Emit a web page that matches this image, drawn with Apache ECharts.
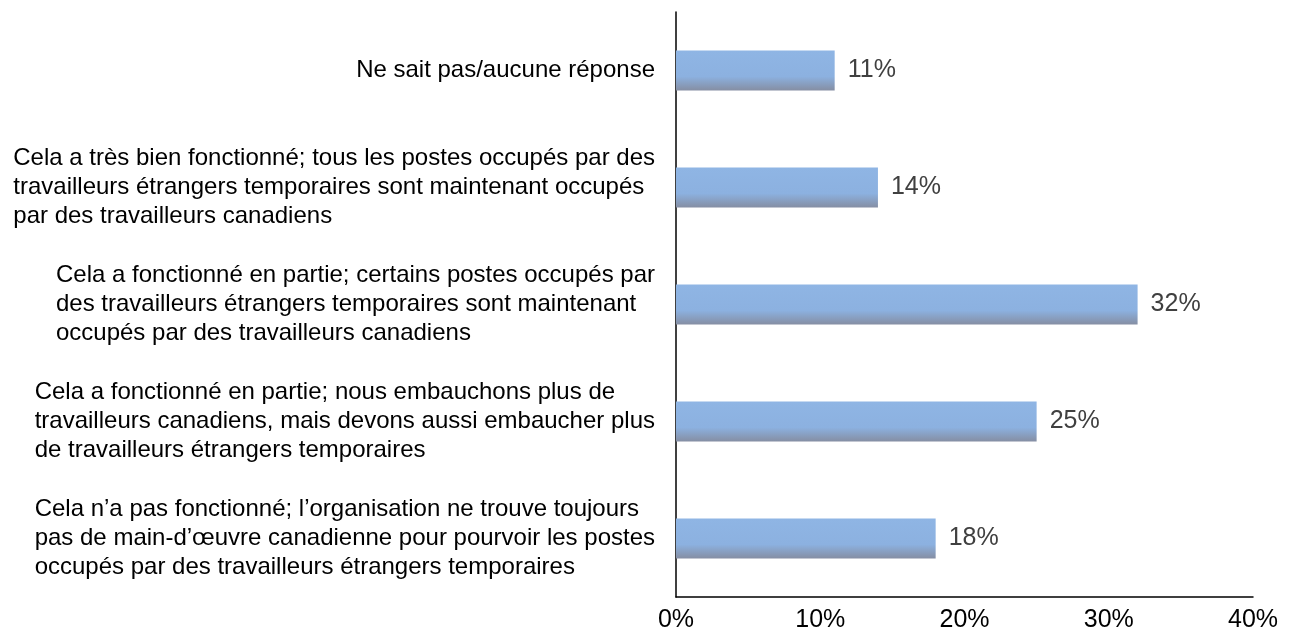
<!DOCTYPE html>
<html lang="fr">
<head>
    <meta charset="UTF-8">
    <title>Résultats</title>
    <script src="https://cdn.jsdelivr.net/npm/echarts@6/dist/echarts.min.js"></script>
    <style>
        html, body { margin: 0; padding: 0; background: #fff; }
        #main { width: 1295px; height: 635px; }
    </style>
</head>
<body>
    <div id="main"></div>
<script>
    // categories (de haut en bas), chaque ligne = une ligne de texte
    var categories = [
        ['Ne sait pas/aucune réponse'],
        ['Cela a très bien fonctionné; tous les postes occupés par des',
         'travailleurs étrangers temporaires sont maintenant occupés',
         'par des travailleurs canadiens'],
        ['Cela a fonctionné en partie; certains postes occupés par',
         'des travailleurs étrangers temporaires sont maintenant',
         'occupés par des travailleurs canadiens'],
        ['Cela a fonctionné en partie; nous embauchons plus de',
         'travailleurs canadiens, mais devons aussi embaucher plus',
         'de travailleurs étrangers temporaires'],
        ['Cela n\u2019a pas fonctionné; l\u2019organisation ne trouve toujours',
         'pas de main-d\u2019œuvre canadienne pour pourvoir les postes',
         'occupés par des travailleurs étrangers temporaires']
    ];
    var values = [11, 14, 32, 25, 18];
    var xTicks = [0, 10, 20, 30, 40];

    var FONT = 'Liberation Sans, Arial, sans-serif';
    var myChart = echarts.init(document.getElementById('main'));

    var option = {
        animation: false,
        grid: { left: 676, right: 42, top: 12, bottom: 38, containLabel: false },
        xAxis: {
            type: 'value',
            min: xTicks[0],
            max: xTicks[xTicks.length - 1],
            interval: 10,
            axisLine: { show: true, lineStyle: { color: '#000', width: 1.5 } },
            axisTick: { show: false },
            splitLine: { show: false },
            axisLabel: {
                formatter: '{value}%',
                color: '#000',
                fontSize: 25,
                fontFamily: FONT,
                margin: 11
            }
        },
        yAxis: {
            type: 'category',
            inverse: true,
            data: categories.map(function (c) { return c.join('\n'); }),
            axisLine: { show: true, lineStyle: { color: '#000', width: 1.5 } },
            axisTick: { show: false },
            axisLabel: {
                margin: 21,
                color: '#000',
                fontSize: 24,
                fontFamily: FONT,
                lineHeight: 29,
                formatter: function (v) {
                    return v.split('\n').map(function (l) { return '{l|' + l + '}'; }).join('\n');
                },
                rich: {
                    l: { align: 'left', fontSize: 24, lineHeight: 29, color: '#000', fontFamily: FONT }
                }
            }
        },
        series: [{
            type: 'bar',
            data: values,
            barWidth: 40,
            itemStyle: {
                color: new echarts.graphic.LinearGradient(0, 0, 0, 1, [
                    { offset: 0, color: '#8fb5e4' },
                    { offset: 0.65, color: '#8cb1e0' },
                    { offset: 1, color: '#858ea3' }
                ])
            },
            label: {
                show: true,
                position: 'right',
                distance: 13,
                formatter: '{c}%',
                color: '#404040',
                fontSize: 25,
                fontFamily: FONT
            }
        }]
    };

    myChart.setOption(option);
</script>
</body>
</html>
